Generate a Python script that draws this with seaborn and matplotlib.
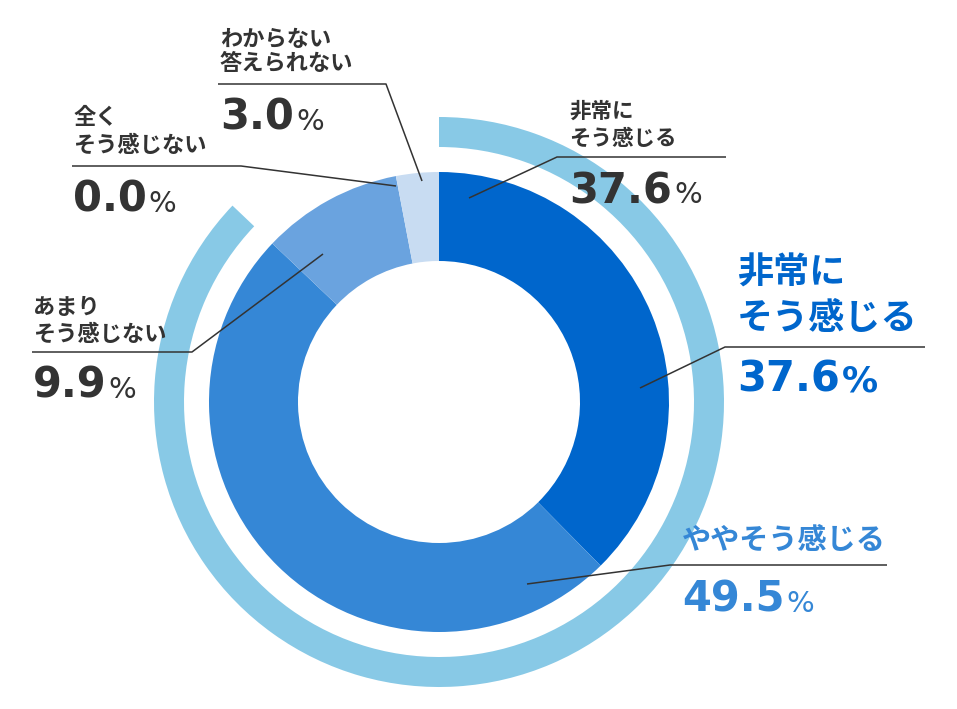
import matplotlib
matplotlib.use('Agg')
import matplotlib.pyplot as plt
import seaborn as sns

# survey answers, clockwise from the top
categories = ['非常に\nそう感じる', 'ややそう感じる', 'あまり\nそう感じない', '全く\nそう感じない', 'わからない\n答えられない']
values = [37.6, 49.5, 9.9, 0.0, 3.0]
seg_colors = ['#0066cc', '#3587d6', '#6aa3df', '#4a8fda', '#c8dcf2']
ring_color = '#88c9e6'
dark = '#333333'

sns.set_theme(style='white')
plt.rcParams['font.family'] = ['Noto Sans CJK JP', 'DejaVu Sans']

W, H = 957, 709
fig = plt.figure(figsize=(W / 100, H / 100), dpi=100)
ax = fig.add_axes([0, 0, 1, 1])


def Y(py):
    return H - py


cx, cy = 439, 402

#### donut + outer ring ("agree" total)
ax.pie(values, colors=seg_colors, radius=230, center=(cx, Y(cy)), startangle=90,
       counterclock=False, wedgeprops=dict(width=89, linewidth=0))
agree = values[0] + values[1]
ax.pie([agree, 100 - agree], colors=[ring_color, 'none'], radius=285, center=(cx, Y(cy)),
       startangle=90, counterclock=False, wedgeprops=dict(width=30, linewidth=0))
ax.set_xlim(0, W)
ax.set_ylim(0, H)
ax.set_aspect('equal')
ax.axis('off')

renderer = fig.canvas.get_renderer()


def draw_label(idx, x, name_ys, name_size, num_base, color=dark, num_size=30,
               pct_size=21, pct_weight='normal', leader=None, name_weight='bold'):
    lines = categories[idx].split('\n')
    for line, yy in zip(lines, name_ys):
        ax.text(x, Y(yy), line, fontsize=name_size, color=color, va='center', ha='left',
                fontweight=name_weight, family=['Noto Sans CJK JP', 'DejaVu Sans'])
    t = ax.text(x, Y(num_base), f'{values[idx]:.1f}', fontsize=num_size, color=color,
                fontweight='bold', va='baseline', ha='left', family='DejaVu Sans')
    w = t.get_window_extent(renderer).width
    ax.text(x + w + 2, Y(num_base), '%', fontsize=pct_size, color=color,
            fontweight=pct_weight, va='baseline', ha='left', family='DejaVu Sans')
    if leader is not None:
        ax.plot([p[0] for p in leader], [Y(p[1]) for p in leader], color=dark, lw=1.1,
                solid_capstyle='butt')


# small dark labels
draw_label(4, 220, [40, 64], 16, 130, leader=[(218, 84), (386, 84), (422, 181)])
draw_label(3, 73, [118, 145], 16, 212, leader=[(72, 166), (241, 166), (396, 186)])
draw_label(2, 33, [307, 334], 16, 398, leader=[(32, 352), (192, 352), (323, 254)])
draw_label(0, 569, [111, 138], 15.5, 203, leader=[(726, 157), (557, 157), (469, 198)])

# highlighted labels on the right
draw_label(0, 737, [273, 318], 26, 392, color=seg_colors[0], pct_size=26, pct_weight='bold',
           leader=[(925, 347), (725, 347), (640, 388)])
draw_label(1, 682, [540], 21, 612, color=seg_colors[1],
           leader=[(887, 565), (670, 565), (527, 584)])

plt.savefig('out.png', dpi=100)
plt.close()
